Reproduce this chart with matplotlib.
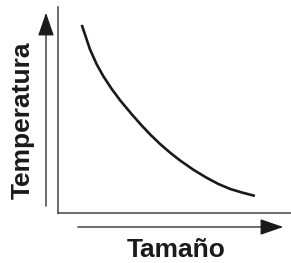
import matplotlib
matplotlib.use("Agg")
import matplotlib.pyplot as plt
from matplotlib.patches import FancyArrowPatch

# === Datos ===
tamano = [1.02, 1.37, 1.66, 1.94, 2.30, 2.66, 3.16, 3.59, 3.95, 4.38,
          4.81, 5.24, 5.81, 6.38, 6.88, 7.38, 7.88, 8.45]
temperatura = [9.13, 7.95, 7.22, 6.65, 6.03, 5.48, 4.80, 4.25, 3.82, 3.35,
               2.93, 2.55, 2.10, 1.71, 1.41, 1.17, 1.00, 0.83]

etiqueta_x = "Tamaño"
etiqueta_y = "Temperatura"

plt.rcParams['font.family'] = ['Liberation Sans', 'DejaVu Sans']

fig = plt.figure(figsize=(2.91, 2.63), dpi=100)
ax = fig.add_axes([58 / 291, 50 / 263, 233 / 291, 206 / 263])

ax.plot(tamano, temperatura, color='#1a1a1a', linewidth=1.9,
        solid_capstyle='butt', solid_joinstyle='round')
ax.set_xlim(0, 10)
ax.set_ylim(0, 10)
ax.set_xticks([])
ax.set_yticks([])
for lado in ['top', 'right']:
    ax.spines[lado].set_visible(False)
for lado in ['left', 'bottom']:
    ax.spines[lado].set_color('#444444')
    ax.spines[lado].set_linewidth(1.1)

# === Flechas ===
estilo = '-|>,head_length=1.45,head_width=0.5'
fig.patches.append(FancyArrowPatch((46 / 291, 54 / 263), (46 / 291, 253 / 263),
                                   transform=fig.transFigure, arrowstyle=estilo,
                                   mutation_scale=10, color='#1a1a1a', linewidth=0.9))
fig.patches.append(FancyArrowPatch((75 / 291, 36 / 263), (286 / 291, 36 / 263),
                                   transform=fig.transFigure, arrowstyle=estilo,
                                   mutation_scale=10, color='#1a1a1a', linewidth=0.9))

fig.text(22.5 / 291, 142.5 / 263, etiqueta_y, rotation=90, ha='center', va='center',
         fontsize=19, fontweight='bold', color='#1a1a1a')
fig.text(176.5 / 291, 1 / 263, etiqueta_x, ha='center', va='bottom',
         fontsize=19, fontweight='bold', color='#1a1a1a')

fig.savefig('out.png', dpi=100)
